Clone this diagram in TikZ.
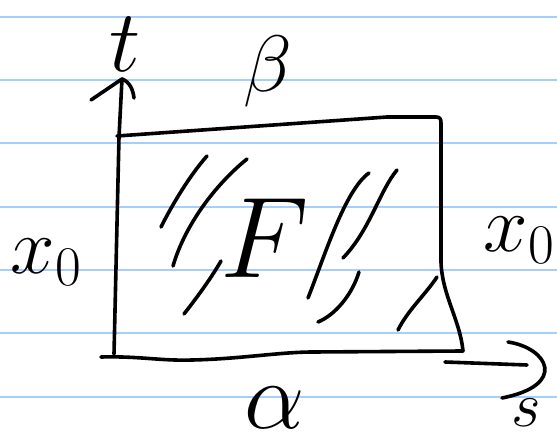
\RequirePackage{fix-cm}
\documentclass[tikz,border=0pt]{standalone}
\definecolor{ruleblue}{RGB}{166,206,250}
\begin{document}
\begin{tikzpicture}[x=1pt,y=-1pt,
  pen/.style={line width=3.6pt,line cap=round,line join=round},
  ruled/.style={ruleblue,line width=2pt},
  hand/.style={font=\fontsize{#1}{#1}\selectfont,inner sep=0pt}]
\fill[white] (0,0) rectangle (557,446);
\useasboundingbox (0,0) rectangle (557,446);

% paper lines
\foreach \y in {17,80,143,207,270,333,397}
  \draw[ruled] (0,\y) -- (557,\y);

% axes
\coordinate (o) at (114,354);
\coordinate (ttip) at (122,79);
\coordinate (sstart) at (445,362);
\coordinate (stip) at (527,365);
\draw[pen] (o) -- (119,137) -- (ttip);
\draw[pen] (91,100) -- (ttip);
\draw[pen] (ttip) .. controls (130,82) and (133,90) .. (134,98);
\draw[pen] (sstart) -- (stip);
\draw[pen] (508,342) .. controls (548,348) and (568,385) .. (502,398);

% the region
\draw[pen] (117,136) -- (387,117) -- (436,117) .. controls (440,117) and (441,119) .. (441,123)
  -- (441,262) .. controls (442,295) and (460,320) .. (463,351)
  -- (313,352) .. controls (280,352) and (240,359) .. (192,360)
  .. controls (160,361) and (140,356) .. (101,357);

% hatching
\draw[pen] (207,156) .. controls (190,175) and (172,205) .. (161,227);
\draw[pen] (247,159) .. controls (215,185) and (185,225) .. (173,266);
\draw[pen] (221,261) .. controls (210,280) and (195,300) .. (184,314);
\draw[pen] (369,173) .. controls (345,190) and (325,255) .. (308,298);
\draw[pen] (397,170) .. controls (380,190) and (370,230) .. (343,258);
\draw[pen] (359,272) .. controls (352,295) and (335,315) .. (318,322);
\draw[pen] (437,277) .. controls (425,295) and (408,310) .. (398,330);

% labels
\node[hand=88] (t) at (125,44) {$t$};
\node[hand=80] (beta) at (268,72) {$\beta$};
\node[hand=96] (alpha) at (275,408) {$\alpha$};
\node[hand=80] (xleft) at (46,262) {$x_0$};
\node[hand=80] (xright) at (519,240) {$x_0$};
\node[hand=115] (F) at (265,238) {$F$};
\node[hand=64] (s) at (526,413) {$s$};
\end{tikzpicture}
\end{document}
